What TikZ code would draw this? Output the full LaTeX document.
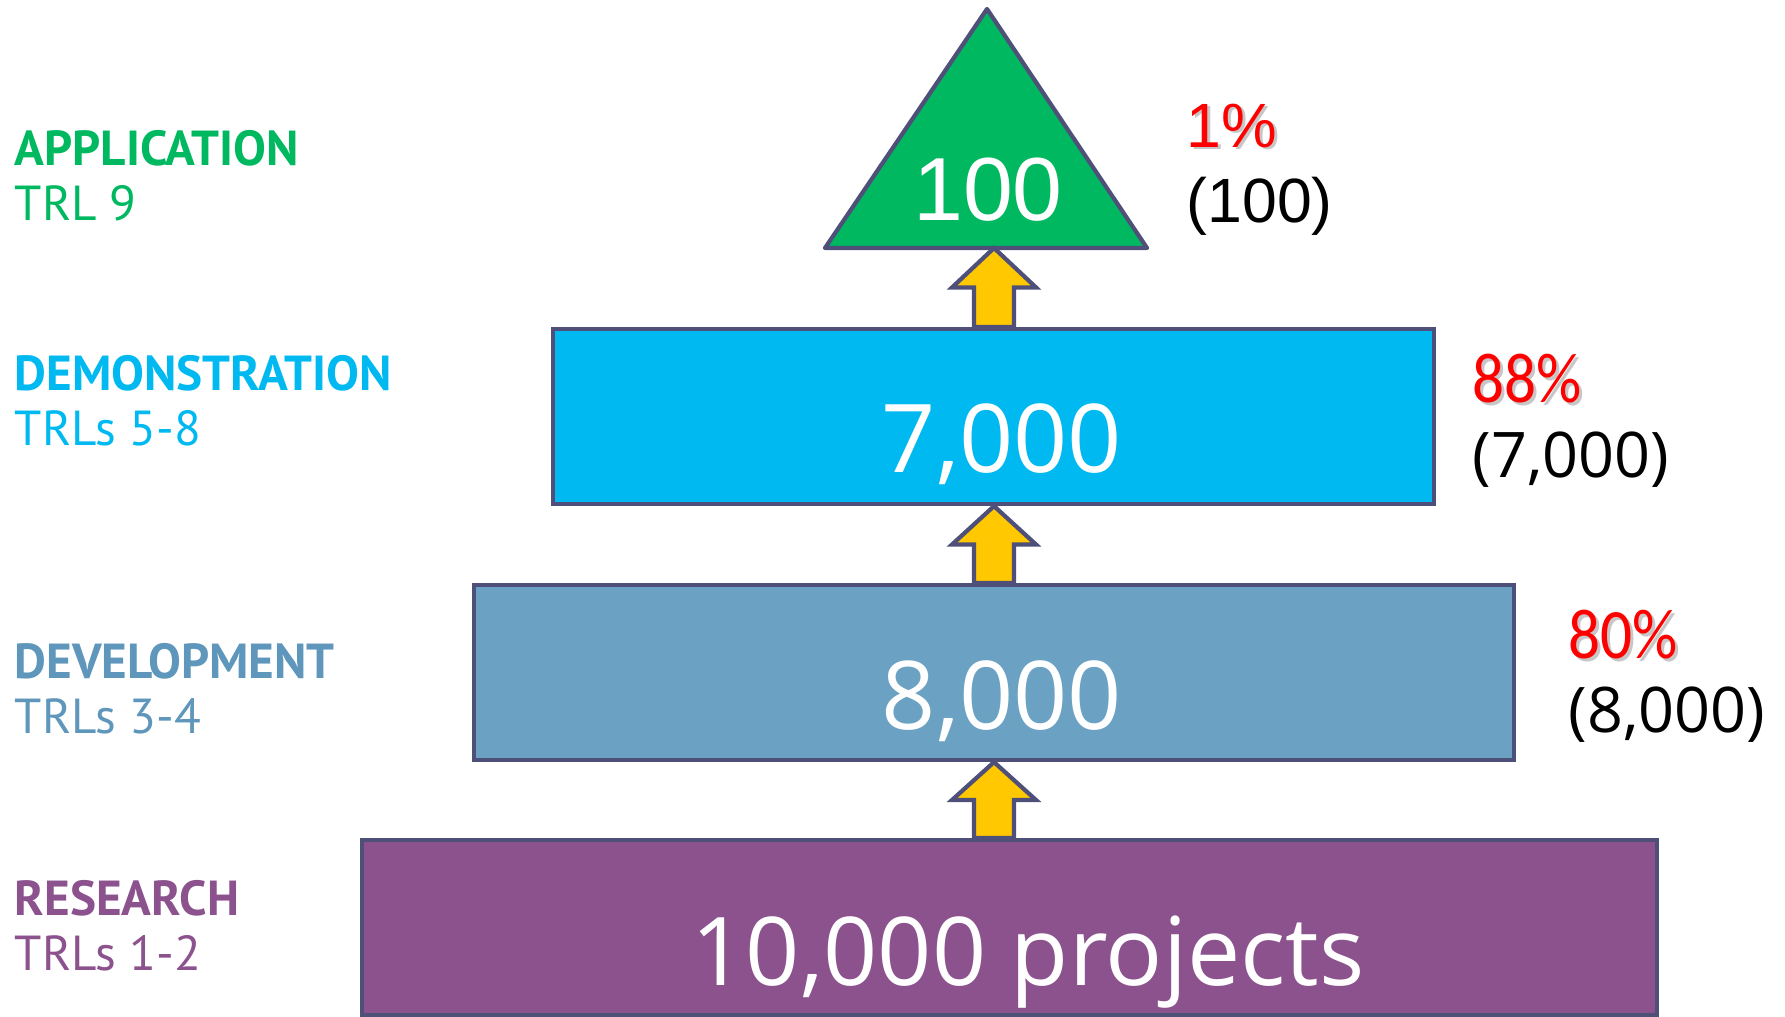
\documentclass[tikz,border=0pt]{standalone}
\usepackage{fontspec}
\setmainfont{Open Sans}
\newfontfamily\stagefont{PT Sans}
\newfontfamily\pctfont{Carlito}
\newfontfamily\arialfont{Liberation Sans}
\usetikzlibrary{calc}
\definecolor{appgreen}{HTML}{00B860}
\definecolor{demoblue}{HTML}{00B9F0}
\definecolor{devblue}{HTML}{6BA2C3}
\definecolor{devtext}{HTML}{5F96BB}
\definecolor{respurple}{HTML}{8B528D}
\definecolor{edgeslate}{HTML}{4F5079}
\definecolor{liftyellow}{HTML}{FFC800}
\tikzstyle{stagebox} = [rectangle, minimum height=1.75cm, inner sep=0, line width=1.2pt, draw=edgeslate]
\tikzstyle{bignum} = [white, anchor=base, inner sep=0, font=\fontsize{27}{32}\selectfont]
\tikzstyle{stagehead} = [anchor=base west, inner sep=0, font=\stagefont\bfseries\fontsize{14}{17}\selectfont]
\tikzstyle{stagetrl} = [anchor=base west, inner sep=0, font=\stagefont\fontsize{14}{17}\selectfont]
\tikzstyle{pct} = [red, anchor=base west, inner sep=0, font=\pctfont\fontsize{18}{22}\selectfont]
\tikzstyle{count} = [anchor=base west, inner sep=0, font=\fontsize{17.9}{22}\selectfont]
\tikzstyle{liftarrow} = [line width=1.2pt, draw=edgeslate, fill=liftyellow, line join=miter]
% red rate with its soft drop shadow
\newcommand{\shadowed}[1]{\rlap{\kern0.8pt\raisebox{-0.8pt}{\textcolor{black!22}{#1}}}#1}
\newcommand{\tallrate}[1]{\scalebox{1}[1.12]{\shadowed{#1}}}
% block arrow from a lower edge point up to an upper edge point
\newcommand{\liftarrow}[2]{%
\draw[liftarrow] let \p1=(#1), \p2=(#2), \n1={(\y2-\y1)/2} in
  (\x1-2mm,\y1) -- (\x1-2mm,\y1+\n1) -- (\x1-4.2mm,\y1+\n1) -- (\x2,\y2)
  -- (\x1+4.2mm,\y1+\n1) -- (\x1+2mm,\y1+\n1) -- (\x1+2mm,\y1) -- cycle;}

\begin{document}
\begin{tikzpicture}
\useasboundingbox (0,0) rectangle (17.85,-10.16);

% stages
\node[stagebox, fill=respurple, minimum width=12.95cm] (research) at (10.095,-9.275) {};
\node[stagebox, fill=devblue, minimum width=10.40cm] (dev) at (9.94,-6.725) {};
\node[stagebox, fill=demoblue, minimum width=8.81cm] (demo) at (9.935,-4.165) {};
\coordinate (tl) at (8.25,-2.48);
\coordinate (tr) at (11.47,-2.48);
\coordinate (top) at (9.87,-0.09);
\draw[line width=1.2pt, draw=edgeslate, fill=appgreen, line join=round] (tl) -- (top) -- (tr) -- cycle;

% arrows
\coordinate (axis) at (9.94,0);
\coordinate (tribase) at (9.94,-2.48);
\liftarrow{axis |- research.north}{axis |- dev.south}
\liftarrow{axis |- dev.north}{axis |- demo.south}
\liftarrow{axis |- demo.north}{tribase}

% counts inside
\node[bignum] (resnum) at (10.28,-9.85) {10,000 projects};
\node[bignum] (devnum) at (10.02,-7.29) {8,000};
\node[bignum] (demonum) at (10.02,-4.72) {7,000};
\node[bignum, font=\arialfont\fontsize{25.5}{30}\selectfont] (appnum) at (9.88,-2.20) {100};

% stage names
\node[stagehead, appgreen] (apphead) at (0.14,-1.65) {APPLICATION};
\node[stagetrl, appgreen] (apptrl) at (0.14,-2.20) {TRL 9};
\node[stagehead, demoblue] (demohead) at (0.14,-3.90) {DEMONSTRATION};
\node[stagetrl, demoblue] (demotrl) at (0.14,-4.45) {TRLs 5-8};
\node[stagehead, devtext] (devhead) at (0.14,-6.78) {DEVELOPMENT};
\node[stagetrl, devtext] (devtrl) at (0.14,-7.33) {TRLs 3-4};
\node[stagehead, respurple] (reshead) at (0.14,-9.15) {RESEARCH};
\node[stagetrl, respurple] (restrl) at (0.14,-9.70) {TRLs 1-2};

% survival rates
\node[pct, font=\arialfont\fontsize{17.8}{22}\selectfont] (apppct) at (11.86,-1.47) {\shadowed{1\%}};
\node[count, font=\arialfont\fontsize{17.8}{22}\selectfont] (appcount) at (11.86,-2.22) {(100)};
\node[pct] (demopct) at (14.72,-4.02) {\tallrate{88\%}};
\node[count] (democount) at (14.72,-4.77) {(7,000)};
\node[pct] (devpct) at (15.68,-6.58) {\tallrate{80\%}};
\node[count] (devcount) at (15.68,-7.32) {(8,000)};
\end{tikzpicture}
\end{document}
